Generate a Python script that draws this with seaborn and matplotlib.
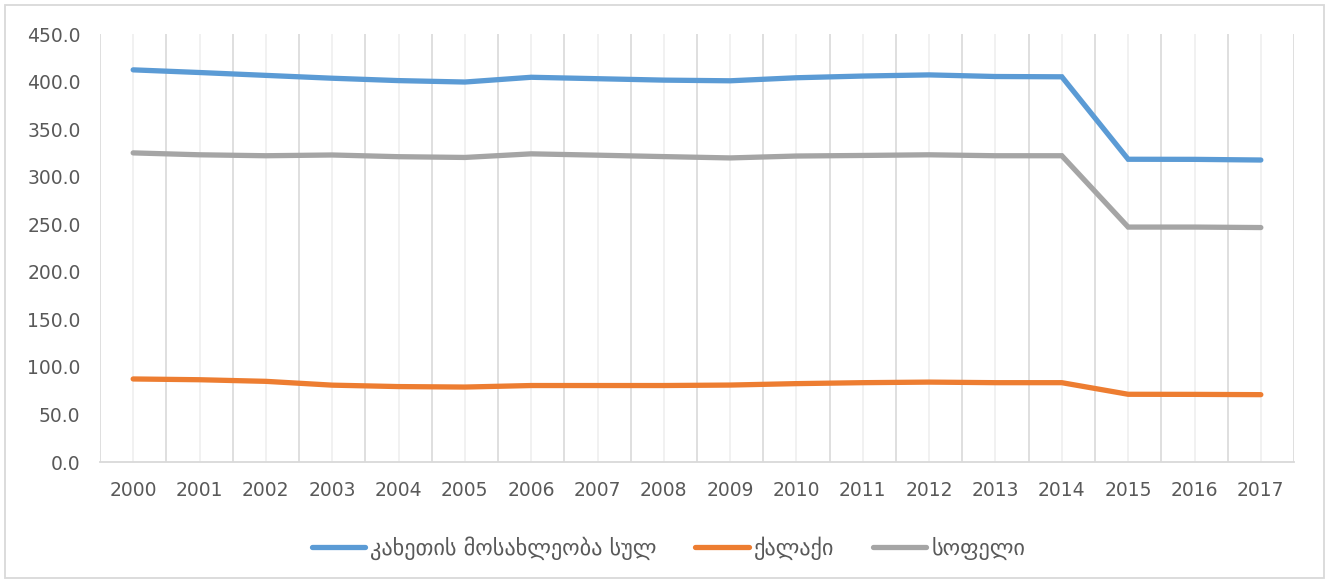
import matplotlib
matplotlib.use("Agg")
import matplotlib.pyplot as plt
import seaborn as sns
import pandas as pd
import numpy as np
from matplotlib.patches import Rectangle
from matplotlib.lines import Line2D

years = ["2000", "2001", "2002", "2003", "2004", "2005", "2006", "2007", "2008",
         "2009", "2010", "2011", "2012", "2013", "2014", "2015", "2016", "2017"]
total = [412.3, 409.5, 406.5, 403.5, 401.0, 399.5, 404.5, 403.0, 401.5,
         400.8, 404.0, 405.8, 407.0, 405.3, 405.0, 318.3, 318.2, 317.5]
urban = [87.3, 86.5, 84.8, 80.8, 79.3, 78.8, 80.4, 80.4, 80.4,
         80.9, 82.4, 83.4, 84.0, 83.4, 83.4, 71.2, 71.1, 70.8]
rural = [325.0, 323.0, 322.0, 322.8, 321.0, 320.2, 324.0, 322.6, 321.1,
         319.7, 321.7, 322.3, 323.0, 322.0, 322.0, 247.0, 247.0, 246.5]
series_names = ["კახეთის მოსახლეობა სულ", "ქალაქი", "სოფელი"]
colors = ["#5B9BD5", "#ED7D31", "#A5A5A5"]

rows = []
for name, vals in zip(series_names, [total, urban, rural]):
    for i, (y, v) in enumerate(zip(years, vals)):
        rows.append({"pos": i, "year": y, "value": v, "series": name})
df = pd.DataFrame(rows)

sns.set_style("white")
plt.rcParams["font.family"] = ["DejaVu Sans"]

fig = plt.figure(figsize=(13.29, 5.82), dpi=100)
ax = fig.add_axes([100 / 1329, 1 - 462 / 582, (1294 - 100) / 1329, (462 - 34) / 582])

sns.lineplot(data=df, x="pos", y="value", hue="series", hue_order=series_names,
             palette=colors, linewidth=3.8, ax=ax, legend=False,
             solid_capstyle="round", solid_joinstyle="miter", zorder=3)

n = len(years)
ax.set_xlim(-0.5, n - 0.5)
ax.set_ylim(0, 450)
ax.set_yticks(np.arange(0, 451, 50))
ax.set_yticklabels([f"{v:.1f}" for v in np.arange(0, 451, 50)])
ax.set_xticks(range(n))
ax.set_xticklabels(years)
ax.set_xlabel("")
ax.set_ylabel("")

# vertical gridlines: darker at boundaries, lighter at centers
for b in np.arange(-0.5, n, 1.0):
    ax.axvline(b, color="#D9D9D9", lw=1.2, zorder=1)
for c in range(n):
    ax.axvline(c, color="#F0F0F0", lw=1.3, zorder=0.5)

for s in ["top", "right", "left"]:
    ax.spines[s].set_visible(False)
ax.spines["bottom"].set_color("#D9D9D9")
ax.spines["bottom"].set_linewidth(1.3)
ax.tick_params(axis="both", length=0, labelsize=13.5, labelcolor="#595959")
ax.tick_params(axis="x", pad=14)
ax.tick_params(axis="y", pad=14)

handles = [Line2D([0], [0], color=c, lw=3.8, solid_capstyle="round") for c in colors]
fig.legend(handles, series_names, loc="center", bbox_to_anchor=(0.503, 0.058),
           ncol=3, frameon=False, fontsize=16, handlelength=2.4,
           handletextpad=0.22, columnspacing=1.75, labelcolor="#595959")

fig.patches.append(Rectangle((5 / 1329, 4 / 582), 1319 / 1329, 573 / 582,
                             transform=fig.transFigure, fill=False,
                             edgecolor="#D9D9D9", lw=1.3))

fig.savefig("out.png", dpi=100)
